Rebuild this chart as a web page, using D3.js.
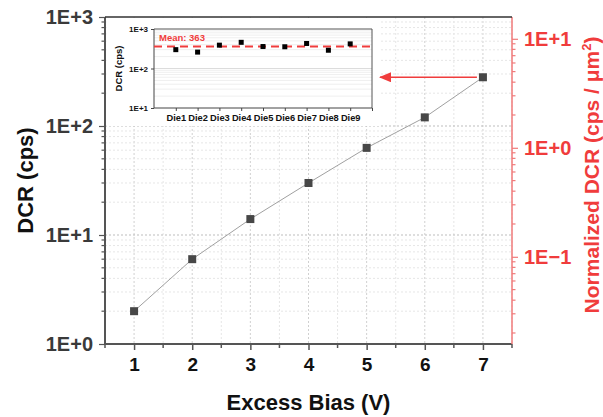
<!DOCTYPE html>
<html>
<head>
<meta charset="utf-8">
<script src="https://cdn.jsdelivr.net/npm/d3@7"></script>
<style>
  body { margin: 0; background: #fff; }
  svg { display: block; font-family: Arial, "Liberation Sans", sans-serif; font-weight: bold; }
</style>
</head>
<body>
<svg id="chart" width="603" height="417"></svg>
<script>
// main series
const biasV = [1, 2, 3, 4, 5, 6, 7];
const dcr = [2, 6, 14, 30, 63, 120, 280];
// inset series
const dies = ["Die1", "Die2", "Die3", "Die4", "Die5", "Die6", "Die7", "Die8", "Die9"];
const dieDcr = [300, 260, 390, 460, 360, 355, 430, 290, 420];
const meanDcr = 363;
// tick labels
const xTicks = [1, 2, 3, 4, 5, 6, 7];
const leftTicks = [1, 10, 100, 1000];
const leftLabels = ["1E+0", "1E+1", "1E+2", "1E+3"];
const rightTicks = [0.1, 1, 10];
const rightLabels = ["1E\u22121", "1E+0", "1E+1"];
const insetTicks = [10, 100, 1000];
const insetLabels = ["1E+1", "1E+2", "1E+3"];

const red = "#f03c3c";
const svg = d3.select("#chart");

margin = ({top: 17, right: 91, bottom: 73, left: 105});
const W = 603, H = 417;

const x = d3.scaleLinear().domain([0.5, 7.5]).range([margin.left, W - margin.right]);
const yL = d3.scaleLog().domain([1, 1000]).range([H - margin.bottom, margin.top]);
const yR = d3.scaleLog().domain([Math.pow(10, -1.8), Math.pow(10, 1.2)]).range([H - margin.bottom, margin.top]);

// minor log values inside a domain
function minors(scale) {
  const [a, b] = scale.domain();
  const out = [];
  for (let e = Math.floor(Math.log10(a)); e <= Math.ceil(Math.log10(b)); e++) {
    for (let m = 2; m <= 9; m++) {
      const v = m * Math.pow(10, e);
      if (v >= a * 0.999 && v <= b * 1.001) out.push(v);
    }
  }
  return out;
}
const halfTicks = d3.range(0.5, 7.51, 1);

// ---- grid
const grid = svg.append("g");
grid.selectAll(".vminor").data(halfTicks).enter().append("line")
  .attr("x1", d => x(d)).attr("x2", d => x(d))
  .attr("y1", margin.top).attr("y2", H - margin.bottom)
  .style("stroke", "#e6e6e6").style("stroke-dasharray", "2,2");
grid.selectAll(".vmajor").data(xTicks).enter().append("line")
  .attr("x1", d => x(d)).attr("x2", d => x(d))
  .attr("y1", margin.top).attr("y2", H - margin.bottom)
  .style("stroke", "#d0d0d0").style("stroke-dasharray", "2,2");
grid.selectAll(".hminor").data(minors(yL)).enter().append("line")
  .attr("x1", margin.left).attr("x2", W - margin.right)
  .attr("y1", d => yL(d)).attr("y2", d => yL(d))
  .style("stroke", "#e6e6e6").style("stroke-dasharray", "2,2");
grid.selectAll(".hmajor").data(leftTicks.slice(1, 3)).enter().append("line")
  .attr("x1", margin.left).attr("x2", W - margin.right)
  .attr("y1", d => yL(d)).attr("y2", d => yL(d))
  .style("stroke", "#bdbdbd").style("stroke-dasharray", "2,2");

// ---- main series
svg.append("path")
  .datum(biasV.map((v, i) => [v, dcr[i]]))
  .attr("d", d3.line().x(d => x(d[0])).y(d => yL(d[1])))
  .style("fill", "none").style("stroke", "#a0a0a0").style("stroke-width", 1);
svg.selectAll(".pt").data(biasV).enter().append("rect")
  .attr("x", (d) => x(d) - 4).attr("y", (d, i) => yL(dcr[i]) - 4)
  .attr("width", 8).attr("height", 8)
  .style("fill", "#474747");

// ---- axes
const axisColor = "#555";
const bottomAxis = svg.append("g").attr("transform", `translate(0,${H - margin.bottom})`)
  .call(d3.axisBottom(x).tickValues(xTicks).tickSize(6).tickFormat(d3.format("d")).tickPadding(8));
bottomAxis.append("g").selectAll("line").data(halfTicks).enter().append("line")
  .attr("x1", d => x(d)).attr("x2", d => x(d)).attr("y1", 0).attr("y2", 4);
bottomAxis.select(".domain").attr("d", `M${margin.left},0H${W - margin.right}`);
bottomAxis.selectAll("line").style("stroke", axisColor).style("stroke-width", 1.5);
bottomAxis.select(".domain").style("stroke", axisColor).style("stroke-width", 2);
bottomAxis.selectAll("text").style("font-size", "19px").style("fill", "#111")
  .style("font-family", "Arial, 'Liberation Sans', sans-serif");

const leftAxis = svg.append("g").attr("transform", `translate(${margin.left},0)`)
  .call(d3.axisLeft(yL).tickValues(leftTicks).tickSize(6)
    .tickFormat((d, i) => leftLabels[i]).tickPadding(6));
leftAxis.append("g").selectAll("line").data(minors(yL)).enter().append("line")
  .attr("y1", d => yL(d)).attr("y2", d => yL(d)).attr("x1", 0).attr("x2", -3.5);
leftAxis.select(".domain").attr("d", `M0,${margin.top}V${H - margin.bottom}`);
leftAxis.selectAll("line").style("stroke", axisColor).style("stroke-width", 1.2);
leftAxis.select(".domain").style("stroke", axisColor).style("stroke-width", 2);
leftAxis.selectAll("text").style("font-size", "20px").style("fill", "#3a3a3a")
  .style("font-family", "Arial, 'Liberation Sans', sans-serif");

const rightAxis = svg.append("g").attr("transform", `translate(${W - margin.right},0)`)
  .call(d3.axisRight(yR).tickValues(rightTicks).tickSize(6)
    .tickFormat((d, i) => rightLabels[i]).tickPadding(6));
rightAxis.append("g").selectAll("line").data(minors(yR)).enter().append("line")
  .attr("y1", d => yR(d)).attr("y2", d => yR(d)).attr("x1", 0).attr("x2", 3.5);
rightAxis.select(".domain").attr("d", `M0,${margin.top}V${H - margin.bottom}`);
rightAxis.selectAll("line").style("stroke", "#f07a7a").style("stroke-width", 1.2);
rightAxis.select(".domain").style("stroke", "#f07a7a").style("stroke-width", 1.5);
rightAxis.selectAll("text").style("font-size", "20px").style("fill", red)
  .style("font-family", "Arial, 'Liberation Sans', sans-serif");

// top frame
svg.append("line")
  .attr("x1", margin.left).attr("x2", W - margin.right)
  .attr("y1", margin.top).attr("y2", margin.top)
  .style("stroke", "#333").style("stroke-width", 1.5);

// ---- titles
svg.append("text")
  .attr("x", (margin.left + W - margin.right) / 2).attr("y", 410)
  .attr("text-anchor", "middle").style("font-size", "22px").style("fill", "#111")
  .text("Excess Bias (V)");
svg.append("text")
  .attr("transform", `translate(33,${(margin.top + H - margin.bottom) / 2}) rotate(-90)`)
  .attr("text-anchor", "middle").style("font-size", "22px").style("fill", "#111")
  .text("DCR (cps)");
const rt = svg.append("text")
  .attr("transform", `translate(599,175) rotate(-90)`)
  .attr("text-anchor", "middle").style("font-size", "21px").style("fill", red);
rt.append("tspan").text("Normalized DCR (cps / \u03bcm");
rt.append("tspan").attr("dy", -8).style("font-size", "13px").text("2");
rt.append("tspan").attr("dy", 8).text(")");

// ---- inset
const inset = {left: 154, right: 372, top: 29, bottom: 108};
svg.append("rect")
  .attr("x", margin.left + 1.5).attr("y", margin.top + 1)
  .attr("width", inset.right + 6 - margin.left).attr("height", 125 - margin.top)
  .style("fill", "#fff");

const ix = d3.scaleLinear().domain([0, 10]).range([inset.left, inset.right]);
const iy = d3.scaleLog().domain([10, 1000]).range([inset.bottom, inset.top]);

svg.append("g").selectAll("line").data(minors(iy).concat([100])).enter().append("line")
  .attr("x1", inset.left).attr("x2", inset.right)
  .attr("y1", d => iy(d)).attr("y2", d => iy(d))
  .style("stroke", d => d === 100 ? "#dcdcdc" : "#efefef");

// frame
svg.append("path")
  .attr("d", `M${inset.left},${inset.top}H${inset.right}V${inset.bottom}`)
  .style("fill", "none").style("stroke", "#555").style("stroke-width", 1);

const ixAxis = svg.append("g").attr("transform", `translate(0,${inset.bottom})`)
  .call(d3.axisBottom(ix).tickValues(d3.range(1, 11)).tickSize(3)
    .tickFormat(d => d <= dies.length ? dies[d - 1] : "").tickPadding(3));
ixAxis.select(".domain").attr("d", `M${inset.left},0H${inset.right}`).style("stroke", "#444");
ixAxis.selectAll("line").style("stroke", "#444");
ixAxis.selectAll("text").style("font-size", "9.3px").style("fill", "#111")
  .style("font-family", "Arial, 'Liberation Sans', sans-serif");

const iyAxis = svg.append("g").attr("transform", `translate(${inset.left},0)`)
  .call(d3.axisLeft(iy).tickValues(insetTicks).tickSize(3)
    .tickFormat((d, i) => insetLabels[i]).tickPadding(3));
iyAxis.select(".domain").attr("d", `M0,${inset.top}V${inset.bottom}`).style("stroke", "#444");
iyAxis.selectAll("line").style("stroke", "#444");
iyAxis.selectAll("text").style("font-size", "8px").style("fill", "#111")
  .style("font-family", "Arial, 'Liberation Sans', sans-serif");

svg.append("text")
  .attr("transform", `translate(122,${(inset.top + inset.bottom) / 2}) rotate(-90)`)
  .attr("text-anchor", "middle").style("font-size", "9.5px").style("fill", "#111")
  .text("DCR (cps)");

// mean line
svg.append("line")
  .attr("x1", inset.left).attr("x2", inset.right)
  .attr("y1", iy(meanDcr)).attr("y2", iy(meanDcr))
  .style("stroke", red).style("stroke-width", 2).style("stroke-dasharray", "8,5");
svg.append("text")
  .attr("x", inset.left + 5).attr("y", iy(meanDcr) - 5)
  .style("font-size", "9.5px").style("fill", red)
  .text("Mean: " + meanDcr);

svg.selectAll(".die").data(dieDcr).enter().append("rect")
  .attr("x", (d, i) => ix(i + 1) - 2.5).attr("y", d => iy(d) - 2.5)
  .attr("width", 5).attr("height", 5).style("fill", "#000");

// ---- arrow from last point to inset
svg.append("defs").append("marker")
  .attr("id", "arrow").attr("viewBox", [0, 0, 12, 10])
  .attr("refX", 11).attr("refY", 5)
  .attr("markerWidth", 12).attr("markerHeight", 10)
  .attr("markerUnits", "userSpaceOnUse")
  .attr("orient", "auto-start-reverse")
  .append("path").attr("d", "M0,0L12,5L0,10Z").style("fill", red);
const last = biasV.length - 1;
svg.append("line")
  .attr("x1", x(biasV[last]) - 6).attr("y1", yL(dcr[last]))
  .attr("x2", inset.right + 8).attr("y2", yL(dcr[last]))
  .style("stroke", red).style("stroke-width", 1.5)
  .attr("marker-end", "url(#arrow)");
</script>
</body>
</html>
